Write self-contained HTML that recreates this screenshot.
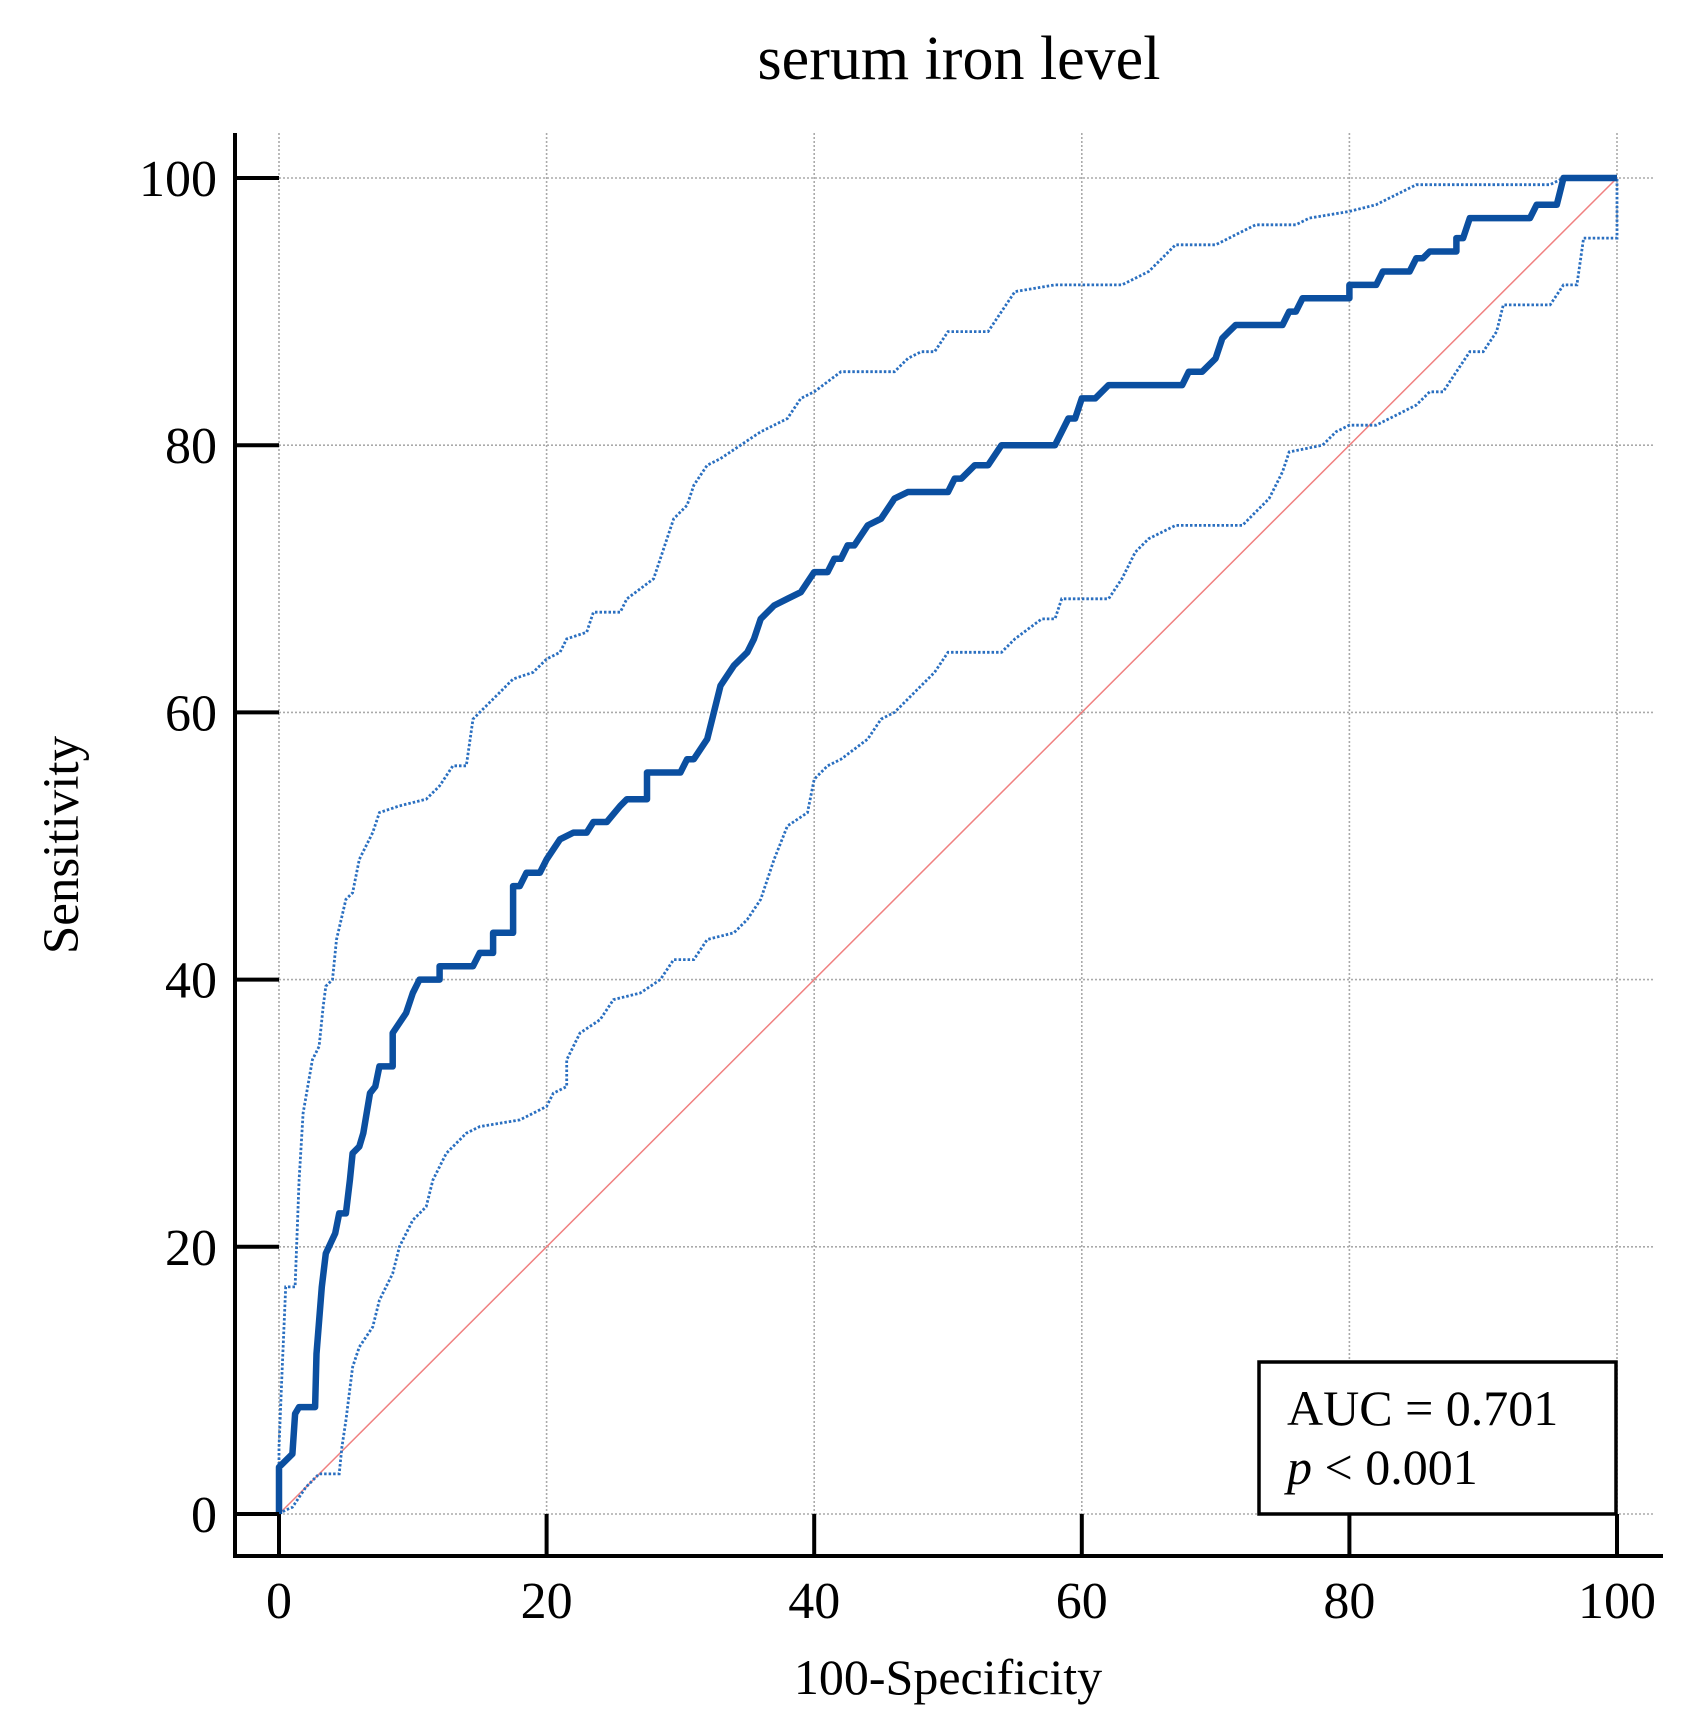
<!DOCTYPE html>
<html><head><meta charset="utf-8"><style>
html,body{margin:0;padding:0;background:#fff;}
svg{display:block;}
text{font-family:"Liberation Serif",serif;fill:#000;}
</style></head><body>
<svg id="s" width="1707" height="1733" viewBox="0 0 1707 1733" xmlns="http://www.w3.org/2000/svg">
<text x="959" y="79" font-size="62" text-anchor="middle">serum iron level</text>
<g id="grid" stroke="#aaa" stroke-width="1.6" stroke-dasharray="2,2"></g>
<line x1="279" y1="1514" x2="1617" y2="178" stroke="#f08080" stroke-width="1.5"/>
<path id="up" fill="none" stroke="#2a6fc0" stroke-width="2.8" stroke-dasharray="2.5,2"/>
<path id="lo" fill="none" stroke="#2a6fc0" stroke-width="2.8" stroke-dasharray="2.5,2"/>
<path id="main" fill="none" stroke="#0b4fa0" stroke-width="6.5" stroke-linejoin="round"/>
<g stroke="#000" stroke-width="4" fill="none">
<line x1="235" y1="133" x2="235" y2="1558"/>
<line x1="233" y1="1556" x2="1663" y2="1556"/>
<g id="ticks"></g>
</g>
<g id="labels" font-size="52"></g>
<rect x="1259" y="1362" width="357" height="152" fill="#fff" stroke="#000" stroke-width="3.5"/>
<text x="1287" y="1425" font-size="50">AUC = 0.701</text>
<text x="1287" y="1484" font-size="50"><tspan font-style="italic">p</tspan> &lt; 0.001</text>
<text x="948" y="1694" font-size="50" text-anchor="middle">100-Specificity</text>
<text x="0" y="0" font-size="51" text-anchor="middle" transform="translate(78,845) rotate(-90)">Sensitivity</text>
</svg>
<script>
var X=function(v){return 279+13.38*v},Y=function(s){return 1514-13.36*s};
var NS="http://www.w3.org/2000/svg";
function el(p,t,a,txt){var e=document.createElementNS(NS,t);for(var k in a)e.setAttribute(k,a[k]);if(txt!==undefined)e.textContent=txt;p.appendChild(e);}
var g=document.getElementById('grid'),tk=document.getElementById('ticks'),lb=document.getElementById('labels');
for(var i=0;i<=100;i+=20){
 el(g,'line',{x1:X(i),y1:133,x2:X(i),y2:1514});
 el(g,'line',{x1:279,y1:Y(i),x2:1655,y2:Y(i)});
 el(tk,'line',{x1:235,y1:Y(i),x2:279,y2:Y(i)});
 el(tk,'line',{x1:X(i),y1:1556,x2:X(i),y2:1514});
 el(lb,'text',{x:217,y:Y(i)+18,'text-anchor':'end'},String(i));
 el(lb,'text',{x:X(i),y:1618,'text-anchor':'middle'},String(i));
}
function P(a){var d='';for(var i=0;i<a.length;i+=2)d+=(i?'L':'M')+X(a[i]).toFixed(1)+' '+Y(a[i+1]).toFixed(1);return d;}
var main=[0,0,0,3.5,1,4.5,1.2,7.5,1.5,8,2.7,8,2.8,12,3.2,17,3.5,19.5,4.2,21,4.5,22.5,5,22.5,5.3,25,5.5,27,6,27.5,6.3,28.5,6.8,31.5,7.2,32,7.5,33.5,8.5,33.5,8.5,36,9.5,37.5,10,39,10.5,40,12,40,12,41,14.5,41,15,42,16,42,16,43.5,17.5,43.5,17.5,47,18,47,18.5,48,19.5,48,20,49,21,50.5,22,51,23,51,23.5,51.8,24.5,51.8,25.5,53,26,53.5,27.5,53.5,27.5,55.5,30,55.5,30.5,56.5,31,56.5,32,58,33,62,34,63.5,35,64.5,35.5,65.5,36,67,37,68,38,68.5,39,69,40,70.5,41,70.5,41.5,71.5,42,71.5,42.5,72.5,43,72.5,44,74,45,74.5,46,76,47,76.5,50,76.5,50.5,77.5,51,77.5,52,78.5,53,78.5,54,80,58,80,59,82,59.5,82,60,83.5,61,83.5,62,84.5,67.5,84.5,68,85.5,69,85.5,70,86.5,70.5,88,71,88.5,71.5,89,75,89,75.5,90,76,90,76.5,91,80,91,80,92,82,92,82.5,93,84.5,93,85,94,85.5,94,86,94.5,88,94.5,88,95.5,88.5,95.5,89,97,93.5,97,94,98,95.5,98,96,100,100,100];
var up=[0,0,0,5,0.2,10,0.5,17,1.2,17,1.5,25,1.8,30,2.5,34,3,35,3.3,38,3.5,39.5,4,40,4.3,43,5,46,5.5,46.5,6,49,7,51,7.5,52.5,9,53,11,53.5,12,54.5,13,56,14,56,14.5,59.5,15.5,60.5,16.5,61.5,17.5,62.5,19,63,20,64,21,64.5,21.5,65.5,23,66,23.5,67.5,25.5,67.5,26,68.5,28,70,29,73,29.5,74.5,30.5,75.5,31,77,32,78.5,33,79,34.5,80,36,81,38,82,39,83.5,40,84,42,85.5,46,85.5,47,86.5,48,87,49,87,50,88.5,53,88.5,54,90,55,91.5,58,92,63,92,65,93,66,94,67,95,70,95,72,96,73,96.5,76,96.5,77,97,80,97.5,82,98,83,98.5,84,99,85,99.5,95,99.5,96,100,100,100];
var lo=[0,0,0.5,0.3,1,0.5,2,2,3,3,4.5,3,4.7,5,5,7,5.5,11,6,12.5,7,14,7.5,16,8.5,18,9,20,10,22,11,23,11.5,25,12.5,27,14,28.5,15,29,18,29.5,20,30.5,20.5,31.5,21.5,32,21.5,34,22.5,36,24,37,25,38.5,27,39,28.5,40,29.5,41.5,31,41.5,32,43,34,43.5,35,44.5,36,46,37,49,38,51.5,39.5,52.5,40,55,41,56,42,56.5,44,58,45,59.5,46,60,47,61,49,63,50,64.5,54,64.5,55,65.5,57,67,58,67,58.5,68.5,62,68.5,63,70,64,72,65,73,67,74,72,74,73,75,74,76,75,78,75.5,79.5,78,80,79,81,80,81.5,82,81.5,84,82.5,85,83,86,84,87,84,88,85.5,89,87,90,87,91,88.5,91.5,90.5,95,90.5,96,92,97,92,97.5,95.5,100,95.5,100,100];
document.getElementById('main').setAttribute('d',P(main));
document.getElementById('up').setAttribute('d',P(up));
document.getElementById('lo').setAttribute('d',P(lo));
</script>
</body></html>
